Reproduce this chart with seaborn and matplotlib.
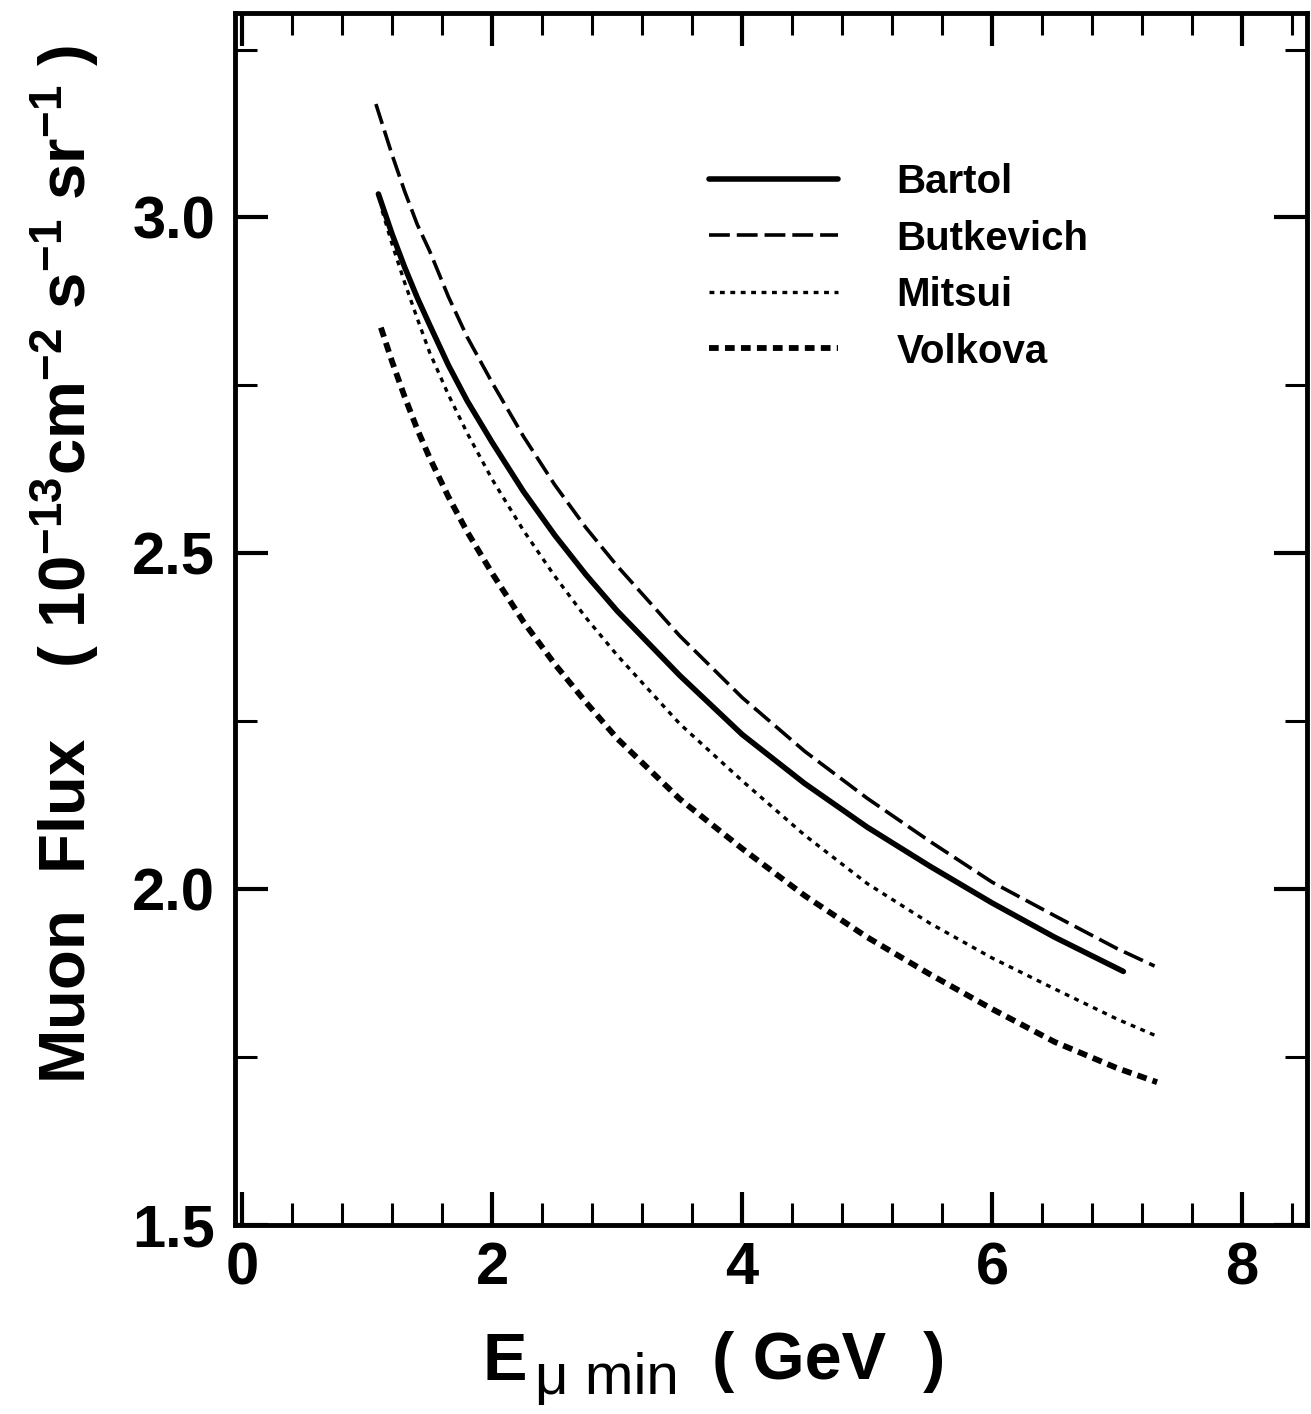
import matplotlib
matplotlib.use("Agg")
import matplotlib.pyplot as plt
import seaborn as sns
from matplotlib.ticker import MultipleLocator, FormatStrFormatter

# --- data (E_mu,min in GeV, flux in 1e-13 cm^-2 s^-1 sr^-1) ---
bartol_e = [1.09, 1.2, 1.3, 1.4, 1.5, 1.65, 1.8, 2.0, 2.25, 2.5, 2.75, 3.0, 3.5,
            4.0, 4.5, 5.0, 5.5, 6.0, 6.5, 7.05]
bartol_f = [3.035, 2.975, 2.926, 2.881, 2.840, 2.780, 2.727, 2.665, 2.592, 2.527,
            2.468, 2.414, 2.318, 2.230, 2.157, 2.092, 2.034, 1.979, 1.928, 1.877]

butkevich_e = [1.07, 1.2, 1.3, 1.4, 1.5, 1.65, 1.8, 2.0, 2.25, 2.5, 2.75, 3.0, 3.5,
               4.0, 4.5, 5.0, 5.5, 6.0, 6.5, 7.0, 7.3]
butkevich_f = [3.169, 3.093, 3.039, 2.990, 2.950, 2.882, 2.822, 2.754, 2.674, 2.602,
               2.538, 2.481, 2.377, 2.285, 2.205, 2.135, 2.071, 2.010, 1.960, 1.911, 1.885]

mitsui_e = [1.12, 1.2, 1.3, 1.4, 1.5, 1.65, 1.8, 2.0, 2.25, 2.5, 2.75, 3.0, 3.5,
            4.0, 4.5, 5.0, 5.5, 6.0, 6.5, 7.0, 7.3]
mitsui_f = [3.010, 2.960, 2.903, 2.850, 2.799, 2.736, 2.679, 2.610, 2.534, 2.466,
            2.404, 2.348, 2.246, 2.161, 2.080, 2.008, 1.949, 1.897, 1.851, 1.806, 1.782]

volkova_e = [1.11, 1.2, 1.3, 1.4, 1.5, 1.65, 1.8, 2.0, 2.25, 2.5, 2.75, 3.0, 3.5,
             4.0, 4.5, 5.0, 5.5, 6.0, 6.5, 7.0, 7.32]
volkova_f = [2.836, 2.785, 2.733, 2.685, 2.642, 2.584, 2.532, 2.470, 2.398, 2.335,
             2.278, 2.224, 2.134, 2.060, 1.990, 1.928, 1.873, 1.821, 1.772, 1.733, 1.712]

series_names = ["Bartol", "Butkevich", "Mitsui", "Volkova"]

# --- style ---
sns.set_theme(style="ticks")
plt.rcParams["font.family"] = ["Liberation Sans", "DejaVu Sans"]
plt.rcParams["text.color"] = "black"
plt.rcParams["axes.labelcolor"] = "black"
plt.rcParams["mathtext.fontset"] = "custom"
plt.rcParams["mathtext.rm"] = "Liberation Sans:weight=normal"
plt.rcParams["mathtext.default"] = "regular"
plt.rcParams["lines.scale_dashes"] = False

fig = plt.figure(figsize=(13.11, 14.14), dpi=100)
ax = fig.add_axes([0.179, 0.134, 0.818, 0.857])

styles = {
    "Bartol": dict(lw=4.0, ls="-"),
    "Butkevich": dict(lw=2.6, ls=(0, (15, 5))),
    "Mitsui": dict(lw=2.4, ls=(0, (3.5, 4.0))),
    "Volkova": dict(lw=4.2, ls=(0, (7, 4.5))),
}
data = {
    "Bartol": (bartol_e, bartol_f),
    "Butkevich": (butkevich_e, butkevich_f),
    "Mitsui": (mitsui_e, mitsui_f),
    "Volkova": (volkova_e, volkova_f),
}

for name in series_names:
    e, f = data[name]
    sns.lineplot(x=e, y=f, ax=ax, color="black", estimator=None, sort=False,
                 linewidth=styles[name]["lw"], linestyle=styles[name]["ls"],
                 label=name)

# --- axes ---
ax.set_xlim(-0.06, 8.52)
ax.set_ylim(1.5, 3.305)
ax.xaxis.set_major_locator(MultipleLocator(2))
ax.xaxis.set_minor_locator(MultipleLocator(0.4))
ax.yaxis.set_major_locator(MultipleLocator(0.5))
ax.yaxis.set_minor_locator(MultipleLocator(0.25))
ax.xaxis.set_major_formatter(FormatStrFormatter("%d"))
ax.yaxis.set_major_formatter(FormatStrFormatter("%.1f"))

ax.tick_params(which="both", direction="in", top=True, right=True,
               labelsize=43, colors="black")
ax.tick_params(which="major", length=24, width=3)
ax.tick_params(which="minor", length=16, width=2.2)
ax.tick_params(axis="y", which="major", pad=14)
ax.tick_params(axis="x", which="major", pad=12)
for lab in ax.get_xticklabels() + ax.get_yticklabels():
    lab.set_fontweight("bold")

for sp in ax.spines.values():
    sp.set_linewidth(3.5)
    sp.set_color("black")

# x label built from pieces: bold E, plain subscript, bold unit
ax.set_xlabel("")
t_e = ax.text(0.231, -0.128, "E", transform=ax.transAxes, fontsize=48,
              fontweight="bold", ha="left", va="baseline")
t_sub = ax.annotate("μ min", xy=(1, 0), xycoords=t_e, xytext=(6, 0),
                    textcoords="offset points", fontsize=42,
                    fontweight="normal", ha="left", va="baseline")
ax.annotate("( GeV  )", xy=(1, 0), xycoords=t_sub, xytext=(24, 19),
            textcoords="offset points", fontsize=48, fontweight="bold",
            ha="left", va="baseline")

ax.set_ylabel(r"Muon  Flux    ( 10$^{-13}$cm$^{-2}$ s$^{-1}$ sr$^{-1}$ )",
              fontsize=47, fontweight="bold")
ax.yaxis.set_label_coords(-0.125, 0.545)

leg = ax.legend(loc="upper left", bbox_to_anchor=(0.4425, 0.876), frameon=False,
                fontsize=29, handlelength=3.2, handletextpad=1.45,
                labelspacing=0.46, borderpad=0, borderaxespad=0)
for t in leg.get_texts():
    t.set_fontweight("bold")

fig.savefig("out.png", dpi=100)
